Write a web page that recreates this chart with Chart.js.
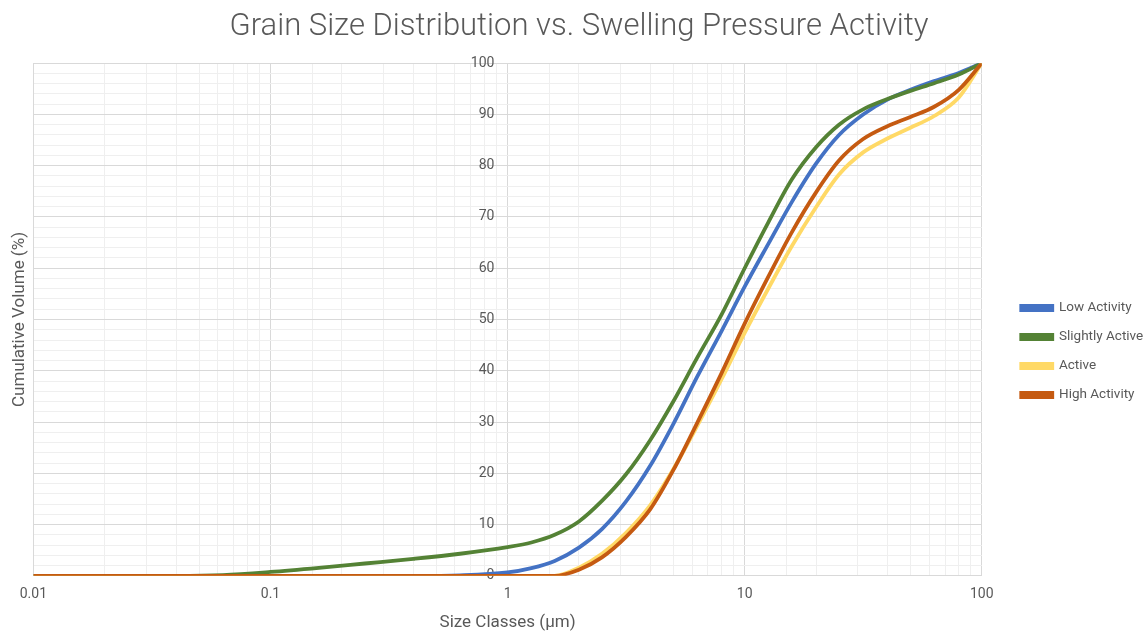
<!DOCTYPE html>
<html>
<head>
<meta charset="utf-8">
<script src="https://cdn.jsdelivr.net/npm/chart.js@4.4.1/dist/chart.umd.min.js"></script>
<style>
html,body{margin:0;padding:0;background:#fff;}
#wrap{width:1148px;height:635px;position:relative;}
</style>
</head>
<body>
<div id="wrap"><canvas id="c"></canvas></div>
<script>
const sizes = [0.01, 0.016, 0.025, 0.04, 0.063, 0.1, 0.16, 0.25, 0.4, 0.63, 1, 1.26, 1.58, 2, 2.5, 3.16, 4, 5, 6.3, 8, 10, 12.6, 15.8, 20, 25, 31.6, 40, 50, 63, 80, 100];
const lowActivity = [0, 0, 0, 0, 0, 0, 0, 0, 0, 0.1, 0.65, 1.5, 2.9, 5.5, 9.1, 14.5, 21.5, 29.6, 38.8, 47.8, 56.4, 64.8, 72.9, 80.4, 86.0, 90.0, 92.9, 94.8, 96.5, 98.1, 100];
const slightlyActive = [0, 0, 0, 0, 0.15, 0.75, 1.55, 2.4, 3.3, 4.3, 5.6, 6.5, 8.0, 10.6, 14.6, 19.8, 26.5, 34.0, 42.5, 51.0, 60.0, 69.0, 77.3, 83.6, 88.0, 91.0, 93.0, 94.6, 96.1, 97.8, 100];
const active = [0, 0, 0, 0, 0, 0, 0, 0, 0, 0, 0, 0, 0, 1.6, 4.3, 8.4, 13.8, 20.8, 29.2, 38.4, 47.4, 56.1, 64.3, 71.9, 78.3, 82.6, 85.3, 87.4, 89.7, 93.3, 100];
const highActivity = [0, 0, 0, 0, 0, 0, 0, 0, 0, 0, 0, 0, 0, 1.2, 3.6, 7.6, 13.0, 20.6, 29.8, 39.6, 49.2, 58.4, 67.0, 74.8, 81.0, 85.2, 87.7, 89.5, 91.5, 94.8, 100];
const xTickLabels = ['0.01', '0.1', '1', '10', '100'];
const yTickLabels = ['0', '10', '20', '30', '40', '50', '60', '70', '80', '90', '100'];

const seriesNames = ['Low Activity', 'Slightly Active', 'Active', 'High Activity'];
const seriesValues = [lowActivity, slightlyActive, active, highActivity];
const seriesColors = ['#4472C4', '#548235', '#FFD966', '#C55A11'];
const seriesOrder = [3, 2, 1, 0];

const TXT = '#595959';
const FONT = 'Roboto';

function isDecade(v) {
  const l = Math.log10(v);
  return Math.abs(l - Math.round(l)) < 1e-6;
}

const datasets = seriesNames.map((name, i) => ({
  label: name,
  data: sizes.map((s, j) => ({x: s, y: seriesValues[i][j]})),
  borderColor: seriesColors[i],
  backgroundColor: seriesColors[i],
  borderWidth: 3.8,
  pointRadius: 0,
  pointHoverRadius: 0,
  fill: false,
  cubicInterpolationMode: 'monotone',
  order: seriesOrder[i]
}));

new Chart(document.getElementById('c'), {
  type: 'line',
  data: {datasets},
  options: {
    responsive: true,
    maintainAspectRatio: false,
    animation: false,
    layout: {padding: {left: 10, right: 0, top: 8, bottom: 2}},
    plugins: {
      title: {
        display: true,
        text: 'Grain Size Distribution vs. Swelling Pressure Activity',
        color: TXT,
        font: {family: FONT, size: 31, weight: '300'},
        padding: {top: 1, bottom: 17}
      },
      legend: {
        position: 'right',
        align: 'center',
        title: {display: true, text: ' ', font: {size: 10}, padding: {top: 0, bottom: 50}},
        labels: {
          color: TXT,
          font: {family: FONT, size: 13.5},
          boxWidth: 31,
          boxHeight: 4,
          padding: 15.5,
          sort: (a, b) => a.datasetIndex - b.datasetIndex
        }
      },
      tooltip: {enabled: false}
    },
    scales: {
      x: {
        type: 'logarithmic',
        min: 0.01,
        max: 100,
        grid: {
          color: (ctx) => (ctx.tick && isDecade(ctx.tick.value)) ? '#d9d9d9' : '#efefef',
          lineWidth: 1,
          drawTicks: false
        },
        border: {display: false},
        ticks: {
          autoSkip: false,
          maxRotation: 0,
          color: TXT,
          font: {family: FONT, size: 14},
          padding: 10,
          callback: (v) => {
            if (!isDecade(v)) return '';
            const idx = Math.round(Math.log10(v)) + 2;
            return xTickLabels[idx];
          }
        },
        title: {
          display: true,
          text: 'Size Classes (μm)',
          color: TXT,
          font: {family: FONT, size: 17},
          padding: {top: 0, bottom: 0}
        }
      },
      y: {
        type: 'linear',
        position: 'left',
        min: 0,
        max: 100,
        ticks: {display: false, stepSize: 2},
        grid: {
          color: (ctx) => (ctx.tick && Math.round(ctx.tick.value) % 10 === 0) ? '#d9d9d9' : '#efefef',
          lineWidth: 1,
          drawTicks: false
        },
        border: {display: true, color: '#d9d9d9'},
        title: {
          display: true,
          text: 'Cumulative Volume (%)',
          color: TXT,
          font: {family: FONT, size: 17},
          padding: {top: 0, bottom: 3}
        }
      },
      y2: {
        type: 'linear',
        position: {x: 0.88},
        min: 0,
        max: 100,
        grid: {display: false, drawTicks: false},
        border: {display: false},
        ticks: {
          stepSize: 10,
          color: TXT,
          font: {family: FONT, size: 14},
          padding: 0,
          callback: (v) => yTickLabels[Math.round(v / 10)]
        }
      },
      yR: {
        type: 'linear',
        position: 'right',
        min: 0,
        max: 100,
        grid: {display: false, drawTicks: false},
        border: {display: false},
        ticks: {display: false},
        afterFit: (s) => { s.width = 24; }
      }
    }
  }
});
</script>
</body>
</html>
